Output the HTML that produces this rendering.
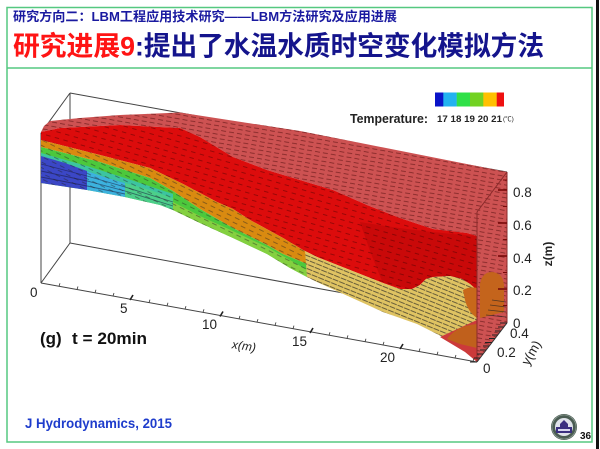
<!DOCTYPE html>
<html><head><meta charset="utf-8">
<style>
html,body{margin:0;padding:0;background:#fff;width:600px;height:449px;overflow:hidden}
svg{display:block}
</style></head>
<body>
<svg width="600" height="449" viewBox="0 0 600 449" xmlns="http://www.w3.org/2000/svg">
<defs>
  <pattern id="pA" width="8" height="4.2" patternUnits="userSpaceOnUse" patternTransform="rotate(10)">
    <path d="M0.5 2 H5.5" stroke="#3a0000" stroke-width="0.8" opacity="0.55"/>
  </pattern>
  <pattern id="pB" width="9" height="6" patternUnits="userSpaceOnUse" patternTransform="rotate(16)">
    <path d="M0.5 3 H5" stroke="#300" stroke-width="0.8" opacity="0.5"/>
  </pattern>
  <pattern id="pS" width="9" height="5" patternUnits="userSpaceOnUse" patternTransform="rotate(26)">
    <path d="M0.5 2.5 H5.5" stroke="#222" stroke-width="0.8" opacity="0.55"/>
  </pattern>
  <pattern id="pC" width="7" height="4" patternUnits="userSpaceOnUse" patternTransform="rotate(22)">
    <path d="M0 2 H6" stroke="#222" stroke-width="0.9" opacity="0.7"/>
  </pattern>
</defs>

<!-- page frame -->
<rect x="0" y="0" width="600" height="449" fill="#fff"/>
<rect x="7" y="7.5" width="585" height="434.5" fill="none" stroke="#55c880" stroke-width="1.5"/>
<line x1="7" y1="68" x2="592" y2="68" stroke="#55c880" stroke-width="1.5"/>
<rect x="596" y="0" width="3" height="449" fill="#111"/>

<!-- header -->
<text x="13" y="21" font-family="'Liberation Sans','Noto Sans CJK SC',sans-serif" font-weight="bold" font-size="13" fill="#1a1aa0" textLength="384" lengthAdjust="spacingAndGlyphs">研究方向二：LBM工程应用技术研究——LBM方法研究及应用进展</text>
<text x="13" y="55.5" font-family="'Liberation Sans','Noto Sans CJK SC',sans-serif" font-weight="bold" font-size="27" fill="#ff1414" textLength="122" lengthAdjust="spacingAndGlyphs">研究进展9</text>
<text x="135" y="55.5" font-family="'Liberation Sans','Noto Sans CJK SC',sans-serif" font-weight="bold" font-size="27" fill="#14148c" textLength="409" lengthAdjust="spacingAndGlyphs">:提出了水温水质时空变化模拟方法</text>

<!-- box lines (behind) -->
<g stroke="#444" stroke-width="1" fill="none">
  <line x1="70" y1="93" x2="41" y2="133"/>
  <line x1="70" y1="93" x2="70" y2="243"/>
  <line x1="41" y1="133" x2="41" y2="283"/>
  <line x1="70" y1="243" x2="41" y2="283"/>
  <line x1="70" y1="93" x2="507" y2="172"/>
  <line x1="70" y1="243" x2="507" y2="323"/>
  <line x1="41" y1="283" x2="477" y2="362"/>
</g>

<!-- fluid: translucent top + right face -->
<path id="base" d="M41,132 L44,126 L50,121 L80,118 L120,115 L180,112.5 L300,131 L507,172 L507,323 L477,362 L477,236 L467,233 L433,229 L400,218 L367,205 L333,190 L300,180 L267,170 L233,157 L200,137 L180,128 L120,125 L60,128 Z" fill="#cd5252"/>
<path d="M41,132 L44,126 L50,121 L80,118 L120,115 L180,112.5 L300,131 L507,172 L507,323 L477,362 L477,236 L467,233 L433,229 L400,218 L367,205 L333,190 L300,180 L267,170 L233,157 L200,137 L180,128 L120,125 L60,128 Z" fill="url(#pA)"/>

<!-- right face patches -->
<path d="M480,284 Q482,272 492,272 Q503,273 504,285 L504,312 L480,318 Z" fill="#c4641c"/>

<!-- bright red front layer -->
<path d="M41,132 L60,128 L120,125 L180,128 L200,137 L233,157 L267,170 L300,180 L333,190 L367,205 L400,218 L433,229 L467,233 L477,236 L477,290 L470,284 L462,279 L450,276 L433,277 L426,279 L420,285 L412,289 L400,289 L383,283 L350,270 L317,257 L303,250 L283,238 L250,220 L233,209 L217,202 L183,184 L150,168 L100,155 L41,140 Z" fill="#dc0c0c"/>
<path d="M360,222 Q420,232 477,236 L477,290 L462,279 L433,277 L412,289 L383,283 Q372,258 360,222 Z" fill="#900000" opacity="0.25"/>
<path d="M41,132 L60,128 L120,125 L180,128 L200,137 L233,157 L267,170 L300,180 L333,190 L367,205 L400,218 L433,229 L467,233 L477,236 L477,290 L470,284 L462,279 L450,276 L433,277 L426,279 L420,285 L412,289 L400,289 L383,283 L350,270 L317,257 L303,250 L283,238 L250,220 L233,209 L217,202 L183,184 L150,168 L100,155 L41,140 Z" fill="url(#pB)"/>

<!-- orange layer -->
<path d="M41,140 L100,155 L150,168 L183,184 L217,202 L233,209 L250,220 L283,238 L303,250 L307,252 L307,264 L283,254 L267,245 L233,228 L200,209 L173,191 L150,178 L100,162 L41,147 Z" fill="#d98a10"/>

<!-- green layer -->
<path d="M41,147 L100,162 L150,178 L173,191 L200,209 L233,228 L267,245 L283,254 L307,264 L307,277 L290,268 L267,254 L233,238 L200,223 L173,210 L160,205 L125,197 L87,190 L41,183 Z" fill="#4cc83c"/>
<path d="M173,202 L200,216 L233,231 L267,247 L290,260 L307,270 L307,277 L290,268 L267,254 L233,238 L200,223 L173,210 Z" fill="#84d040"/>
<!-- left cold layers -->
<path d="M41,153 L87,166 L125,178 L173,194 L173,198 L125,183 L87,171 L41,157 Z" fill="#3cc4a0"/>
<path d="M41,156 L65,163 L87,171 L87,190 L41,183 Z" fill="#3b47c6"/>
<path d="M87,171 L105,177 L125,183 L125,197 L87,190 Z" fill="#3cb2de"/>
<path d="M125,183 L150,190 L173,198 L173,210 L160,205 L125,197 Z" fill="#4ccf8a"/>
<g stroke="#1a1a40" stroke-width="0.9" opacity="0.55" fill="none">
  <path d="M41,164 L87,176 L125,187 L173,202"/>
  <path d="M41,171 L87,181 L125,191 L173,206"/>
  <path d="M41,177 L87,186 L125,194"/>
</g>
<path d="M41,140 L100,155 L150,168 L183,184 L217,202 L233,209 L250,220 L283,238 L303,250 L307,252 L307,277 L290,268 L267,254 L233,238 L200,223 L173,210 L160,205 L125,197 L87,190 L41,183 Z" fill="url(#pS)"/>

<!-- yellow layer -->
<path d="M305,251 L317,257 L350,270 L383,283 L400,289 L412,289 L420,285 L426,279 L433,277 L450,276 L462,279 L470,284 L477,290 L477,325 L470,327 L455,333 L447,339 L417,324 L383,312 L350,297 L317,282 L307,277 Z" fill="#dfc362"/>
<path d="M305,251 L317,257 L350,270 L383,283 L400,289 L412,289 L420,285 L426,279 L433,277 L450,276 L462,279 L470,284 L477,290 L477,325 L470,327 L455,333 L447,339 L417,324 L383,312 L350,297 L317,282 L307,277 Z" fill="url(#pC)"/>
<path d="M463,290 Q470,286 477,288 L477,318 Q468,312 465,300 Z" fill="#c8681a"/>

<!-- bottom right -->
<path d="M440,337 L477,320 L477,362 L465,352 Z" fill="#cc3a3a"/>
<path d="M447,339 Q455,328 470,325 L477,324 L477,348 L460,344 Z" fill="#c0601c"/>

<!-- right face edges -->
<g stroke="#8a2a2a" stroke-width="1" fill="none">
  <line x1="477" y1="212" x2="477" y2="362"/>
  <line x1="507" y1="172" x2="507" y2="323"/>
  <line x1="477" y1="212" x2="507" y2="172"/>
</g>
<line x1="477" y1="362" x2="507" y2="323" stroke="#333" stroke-width="1"/>

<!-- z ticks -->
<g stroke="#7a0a0a" stroke-width="1.6">
  <line x1="498" y1="190" x2="507" y2="190"/>
  <line x1="498" y1="223" x2="507" y2="223"/>
  <line x1="498" y1="256" x2="507" y2="256"/>
  <line x1="498" y1="289" x2="507" y2="289"/>
</g>
<g stroke="#7a0a0a" stroke-width="1">
  <line x1="503" y1="206.5" x2="507" y2="206.5"/>
  <line x1="503" y1="239.5" x2="507" y2="239.5"/>
  <line x1="503" y1="272.5" x2="507" y2="272.5"/>
  <line x1="503" y1="305.5" x2="507" y2="305.5"/>
  <line x1="503" y1="180" x2="507" y2="180"/>
</g>
<!-- y ticks / hatch -->
<g stroke="#222" stroke-width="1">
  <line x1="477" y1="362" x2="470" y2="362"/>
  <line x1="480" y1="358" x2="474" y2="358"/>
  <line x1="483" y1="354" x2="477" y2="354"/>
  <line x1="486" y1="350" x2="480" y2="350"/>
  <line x1="489" y1="346" x2="483" y2="346"/>
  <line x1="492" y1="342.5" x2="485" y2="342.5"/>
  <line x1="495" y1="338.5" x2="489" y2="338.5"/>
  <line x1="498" y1="335" x2="492" y2="335"/>
  <line x1="501" y1="331" x2="495" y2="331"/>
  <line x1="504" y1="327" x2="498" y2="327"/>
  <line x1="507" y1="323" x2="500" y2="323"/>
</g>
<g stroke="#222" stroke-width="0.7" opacity="0.7">
  <line x1="492" y1="300" x2="506" y2="302"/>
  <line x1="490" y1="305" x2="506" y2="307"/>
  <line x1="488" y1="310" x2="506" y2="312"/>
  <line x1="486" y1="315" x2="506" y2="317"/>
</g>

<!-- x-axis ticks -->
<g stroke="#333" stroke-width="0.8">
<path d="M59,286.3 l1,-3 M77,289.5 l1,-3 M95,292.8 l1,-3 M113,296 l1,-3 M149,302.6 l1,-3 M167,305.8 l1,-3 M185,309.1 l1,-3 M203,312.3 l1,-3 M239,318.9 l1,-3 M257,322.1 l1,-3 M275,325.4 l1,-3 M293,328.6 l1,-3 M329,335.2 l1,-3 M347,338.4 l1,-3 M365,341.7 l1,-3 M383,344.9 l1,-3 M419,351.5 l1,-3 M437,354.7 l1,-3 M455,358 l1,-3 M473,361.2 l1,-3"/>
</g>
<g stroke="#222" stroke-width="1.6">
<path d="M130,300 l3,-5 M220,316.5 l3,-5 M310,333 l3,-5 M400,349 l3,-5"/>
</g>

<!-- axis labels -->
<g font-family="'Liberation Sans',sans-serif" font-size="13.5" fill="#222">
  <text x="30" y="297">0</text>
  <text x="120" y="313">5</text>
  <text x="202" y="329">10</text>
  <text x="292" y="346">15</text>
  <text x="380" y="362">20</text>
  <text x="513" y="197">0.8</text>
  <text x="513" y="230">0.6</text>
  <text x="513" y="263">0.4</text>
  <text x="513" y="295">0.2</text>
  <text x="513" y="328">0</text>
  <text x="510" y="338">0.4</text>
  <text x="497" y="357">0.2</text>
  <text x="483" y="373">0</text>
</g>
<text x="232" y="350" font-family="'Liberation Sans',sans-serif" font-style="italic" font-size="12" fill="#222" transform="rotate(8 244 346)">x(m)</text>
<text x="0" y="0" font-family="'Liberation Sans',sans-serif" font-weight="bold" font-size="12" fill="#222" text-anchor="middle" transform="translate(552 254) rotate(-90)">z(m)</text>
<text x="0" y="0" font-family="'Liberation Sans',sans-serif" font-size="13" fill="#222" text-anchor="middle" transform="translate(535 355) rotate(-60)">y(m)</text>

<!-- colorbar legend -->
<rect x="435" y="92.5" width="8.5" height="14" fill="#0a14c8"/>
<rect x="443.3" y="92.5" width="13.6" height="14" fill="#22b2f0"/>
<rect x="456.7" y="92.5" width="13.5" height="14" fill="#30e048"/>
<rect x="470" y="92.5" width="13.5" height="14" fill="#72d222"/>
<rect x="483.3" y="92.5" width="13.6" height="14" fill="#ffc000"/>
<rect x="496.7" y="92.5" width="7.3" height="14" fill="#ee1010"/>
<text x="350" y="123" font-family="'Liberation Sans',sans-serif" font-weight="bold" font-size="12.5" fill="#222" textLength="78" lengthAdjust="spacingAndGlyphs">Temperature:</text>
<text x="437" y="122" font-family="'Liberation Sans',sans-serif" font-weight="bold" font-size="9.5" fill="#222" textLength="65" lengthAdjust="spacingAndGlyphs">17 18 19 20 21</text>
<text x="503" y="121" font-family="'Liberation Sans','Noto Sans CJK SC',sans-serif" font-size="6.5" fill="#222">(℃)</text>

<!-- caption -->
<text x="40" y="344" font-family="'Liberation Sans',sans-serif" font-weight="bold" font-size="17" fill="#111">(g)</text>
<text x="72" y="344" font-family="'Liberation Sans',sans-serif" font-weight="bold" font-size="17" fill="#111" textLength="75" lengthAdjust="spacingAndGlyphs">t = 20min</text>

<text x="25" y="428" font-family="'Liberation Sans',sans-serif" font-weight="bold" font-size="13.5" fill="#1e3ccc" textLength="147" lengthAdjust="spacingAndGlyphs">J Hydrodynamics,  2015</text>

<!-- logo -->
<circle cx="564" cy="427" r="13" fill="#4a5c52"/>
<circle cx="564" cy="427" r="12" fill="none" stroke="#9aa8a0" stroke-width="0.6"/>
<circle cx="564" cy="427" r="9" fill="#dfe2ea"/>
<path d="M556,433 L556,427 L560,427 L560,424 L564,420 L568,424 L568,427 L572,427 L572,433 Z" fill="#3a2f80"/>
<rect x="558" y="429" width="12" height="2" fill="#d8d8f0"/>
<text x="580" y="439" font-family="'Liberation Sans',sans-serif" font-weight="bold" font-size="10" fill="#111">36</text>
</svg>
</body></html>
